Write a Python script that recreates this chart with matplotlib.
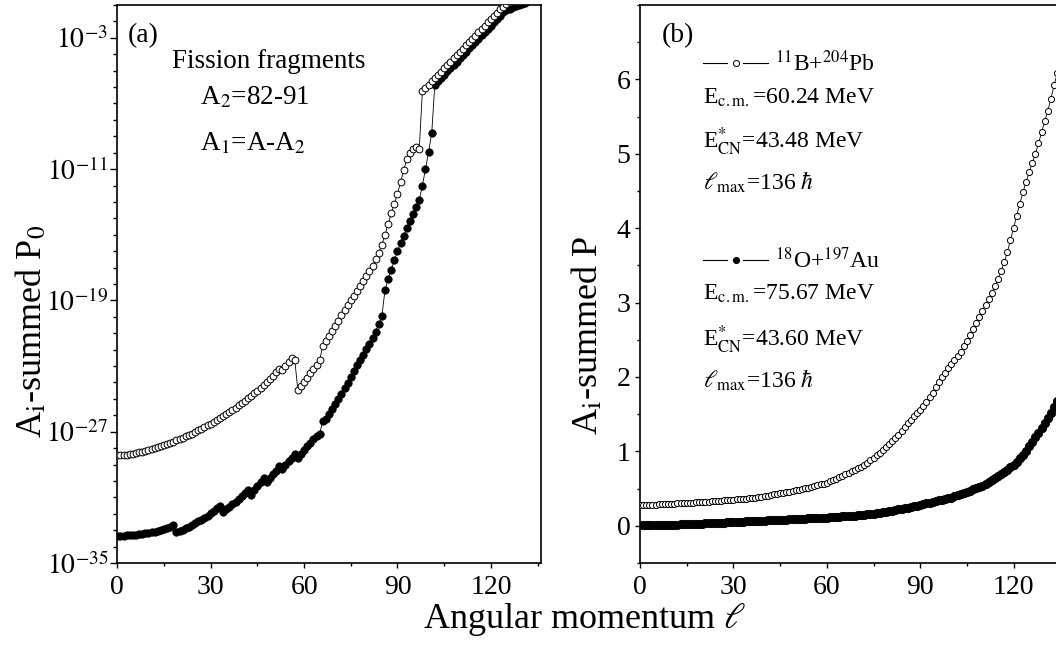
import matplotlib
matplotlib.use("Agg")
import matplotlib.pyplot as plt
import numpy as np
from matplotlib.ticker import FixedLocator, FixedFormatter, MultipleLocator, NullFormatter

# ---------------- data ----------------
ell = list(range(0, 137))

# (a) log10 of A_i-summed P0, 11B+204Pb (open circles)
open_log10_P0 = [
    -28.45, -28.44, -28.42, -28.40, -28.37, -28.34, -28.30, -28.26, -28.22, -28.17,
    -28.12, -28.07, -28.01, -27.95, -27.89, -27.82, -27.75, -27.68, -27.60, -27.52,
    -27.44, -27.36, -27.28, -27.20, -27.12, -27.02, -26.92, -26.82, -26.72, -26.62,
    -26.52, -26.40, -26.28, -26.16, -26.04, -25.92, -25.80, -25.67, -25.54, -25.40,
    -25.26, -25.12, -24.97, -24.82, -24.66, -24.50, -24.33, -24.15, -23.97, -23.78,
    -23.58, -23.38, -23.15, -23.25, -23.00, -22.75, -22.50, -22.62, -24.48, -24.22,
    -23.96, -23.70, -23.44, -23.18, -22.92, -22.65, -21.75, -21.45, -21.15, -20.85,
    -20.55, -20.25, -19.90, -19.60, -19.30, -19.00, -18.72, -18.44, -18.12, -17.80,
    -17.50, -17.20, -16.88, -16.50, -16.10, -15.60, -15.00, -14.35, -13.70, -13.10,
    -12.50, -11.80, -11.05, -10.40, -10.00, -9.78, -9.65, -9.75, -6.26, -6.06,
    -5.86, -5.66, -5.46, -5.26, -5.06, -4.86, -4.66, -4.46, -4.26, -4.06,
    -3.86, -3.66, -3.46, -3.26, -3.06, -2.86, -2.66, -2.46, -2.26, -2.06,
    -1.86, -1.66, -1.46, -1.27, -1.10, -0.95, -0.82, -0.72, -0.64, -0.58,
    -0.54, -0.51, -0.49, -0.47, -0.46, -0.45, -0.44,
]

# (a) log10 of A_i-summed P0, 18O+197Au (filled circles)
filled_log10_P0 = [
    -33.34, -33.34, -33.33, -33.32, -33.31, -33.30, -33.28, -33.26, -33.23, -33.20,
    -33.17, -33.13, -33.09, -33.04, -32.99, -32.93, -32.86, -32.78, -32.66, -33.12,
    -33.04, -32.96, -32.87, -32.78, -32.68, -32.58, -32.47, -32.36, -32.24, -32.12,
    -31.97, -31.82, -31.66, -31.50, -31.88, -31.73, -31.58, -31.42, -31.26, -31.09,
    -30.92, -30.74, -30.55, -30.85, -30.58, -30.32, -30.05, -29.80, -30.04, -29.82,
    -29.60, -29.38, -29.12, -29.28, -29.02, -28.80, -28.58, -28.38, -28.60, -28.35,
    -28.10, -27.88, -27.66, -27.46, -27.28, -27.12, -26.35, -26.22, -25.93, -25.63,
    -25.32, -25.00, -24.68, -24.35, -24.02, -23.68, -23.32, -22.96, -22.62, -22.30,
    -21.98, -21.66, -21.30, -20.90, -20.45, -19.95, -18.35, -17.72, -17.12, -16.55,
    -16.02, -15.52, -15.05, -14.60, -14.16, -13.72, -13.30, -12.88, -12.00, -11.00,
    -9.95, -8.80, -5.85, -5.65, -5.45, -5.25, -5.05, -4.85, -4.65, -4.45,
    -4.25, -4.05, -3.85, -3.65, -3.45, -3.25, -3.05, -2.85, -2.65, -2.45,
    -2.25, -2.05, -1.86, -1.68, -1.45, -1.32, -1.22, -1.14, -1.07, -1.00,
    -0.93, -0.85, -0.76, -0.67, -0.58, -0.50, -0.42,
]

# (b) A_i-summed P, 11B+204Pb (open circles)
open_P = [
    0.280, 0.281, 0.282, 0.283, 0.284, 0.286, 0.288, 0.290, 0.292, 0.294,
    0.296, 0.298, 0.300, 0.302, 0.304, 0.306, 0.308, 0.311, 0.314, 0.317,
    0.320, 0.323, 0.326, 0.329, 0.332, 0.335, 0.338, 0.341, 0.344, 0.347,
    0.350, 0.354, 0.358, 0.362, 0.366, 0.370, 0.375, 0.380, 0.385, 0.392,
    0.400, 0.407, 0.414, 0.421, 0.428, 0.435, 0.443, 0.451, 0.459, 0.467,
    0.475, 0.484, 0.493, 0.502, 0.512, 0.522, 0.533, 0.544, 0.556, 0.568,
    0.580, 0.597, 0.615, 0.634, 0.654, 0.675, 0.692, 0.710, 0.730, 0.750,
    0.770, 0.795, 0.822, 0.850, 0.880, 0.912, 0.945, 0.980, 1.016, 1.054,
    1.093, 1.133, 1.174, 1.225, 1.275, 1.325, 1.375, 1.425, 1.470, 1.515,
    1.560, 1.610, 1.665, 1.725, 1.790, 1.860, 1.930, 2.000, 2.060, 2.115,
    2.170, 2.225, 2.280, 2.340, 2.410, 2.480, 2.560, 2.640, 2.730, 2.810,
    2.890, 2.970, 3.050, 3.130, 3.220, 3.320, 3.430, 3.540, 3.680, 3.840,
    4.000, 4.170, 4.330, 4.480, 4.620, 4.750, 4.880, 5.000, 5.140, 5.290,
    5.440, 5.580, 5.740, 5.920, 6.080, 6.250, 6.420,
]

# (b) A_i-summed P, 18O+197Au (filled circles)
filled_P = [
    0.005, 0.006, 0.007, 0.008, 0.009, 0.010, 0.011, 0.012, 0.013, 0.014,
    0.015, 0.016, 0.017, 0.018, 0.019, 0.020, 0.022, 0.024, 0.026, 0.028,
    0.030, 0.032, 0.034, 0.036, 0.038, 0.040, 0.042, 0.044, 0.046, 0.048,
    0.050, 0.052, 0.054, 0.056, 0.058, 0.060, 0.062, 0.064, 0.066, 0.068,
    0.070, 0.072, 0.074, 0.076, 0.078, 0.080, 0.082, 0.084, 0.086, 0.088,
    0.090, 0.092, 0.094, 0.096, 0.098, 0.100, 0.102, 0.104, 0.106, 0.108,
    0.110, 0.113, 0.116, 0.119, 0.122, 0.125, 0.128, 0.131, 0.134, 0.137,
    0.140, 0.145, 0.150, 0.155, 0.160, 0.165, 0.171, 0.177, 0.183, 0.189,
    0.195, 0.203, 0.211, 0.219, 0.227, 0.235, 0.244, 0.253, 0.262, 0.271,
    0.280, 0.290, 0.300, 0.310, 0.320, 0.330, 0.340, 0.350, 0.360, 0.370,
    0.380, 0.395, 0.410, 0.425, 0.440, 0.455, 0.472, 0.489, 0.506, 0.523,
    0.540, 0.565, 0.590, 0.615, 0.640, 0.665, 0.695, 0.725, 0.755, 0.785,
    0.815, 0.860, 0.905, 0.955, 1.010, 1.070, 1.130, 1.190, 1.250, 1.315,
    1.380, 1.450, 1.520, 1.600, 1.680, 1.765, 1.850,
]

log_major_exp = [-35, -27, -19, -11, -3]
log_major_labels = [r"$10^{-35}$", r"$10^{-27}$", r"$10^{-19}$", r"$10^{-11}$", r"$10^{-3}$"]
lin_major = [0, 1, 2, 3, 4, 5, 6]
x_major = [0, 30, 60, 90, 120]

# ---------------- style ----------------
plt.rcParams["font.family"] = ["Liberation Serif", "DejaVu Serif"]
plt.rcParams["mathtext.fontset"] = "stix"

fig = plt.figure(figsize=(10.56, 6.48), dpi=100)
axL = fig.add_axes([0.1111, 0.1312, 0.4009, 0.8611])
axR = fig.add_axes([0.6061, 0.1312, 0.4009, 0.8611])

x = np.array(ell)

# panel (a)
axL.plot(x, 10.0 ** np.array(filled_log10_P0), "-", color="black", lw=0.6,
         marker="o", ms=5.3, mfc="black", mec="black", mew=0.6, zorder=2)
axL.plot(x, 10.0 ** np.array(open_log10_P0), "-", color="black", lw=0.6,
         marker="o", ms=4.9, mfc="white", mec="black", mew=0.7, zorder=3)
axL.set_yscale("log")
axL.set_ylim(1e-35, 1e-1)
axL.set_xlim(0, 136)
axL.yaxis.set_major_locator(FixedLocator([10.0 ** e for e in log_major_exp]))
axL.yaxis.set_major_formatter(FixedFormatter(log_major_labels))
axL.yaxis.set_minor_locator(FixedLocator([10.0 ** e for e in range(-35, 0)]))
axL.yaxis.set_minor_formatter(NullFormatter())

# panel (b)
axR.plot(x, filled_P, "-", color="black", lw=0.6,
         marker="o", ms=6.0, mfc="black", mec="black", mew=0.6, zorder=2)
axR.plot(x, open_P, "-", color="black", lw=0.6,
         marker="o", ms=4.4, mfc="white", mec="black", mew=0.7, zorder=3)
axR.set_xlim(0, 136)
axR.set_ylim(-0.5, 7)
axR.yaxis.set_major_locator(FixedLocator(lin_major))
axR.yaxis.set_minor_locator(MultipleLocator(0.5))

for ax in (axL, axR):
    ax.xaxis.set_major_locator(FixedLocator(x_major))
    ax.xaxis.set_minor_locator(MultipleLocator(15))
    ax.tick_params(which="both", direction="out", top=False, right=False,
                   labelsize=20, width=1.0)
    ax.tick_params(axis="x", which="major", length=3.8, pad=5)
    ax.tick_params(axis="x", which="minor", length=2.3)
    for s in ax.spines.values():
        s.set_linewidth(1.2)

axL.tick_params(axis="y", which="major", length=5, pad=1.5)
axL.tick_params(axis="y", which="minor", length=3)
axR.tick_params(axis="y", which="major", length=3.8, pad=3)
axR.tick_params(axis="y", which="minor", length=2.3)

# texts panel (a)
afs = 19.5
axL.text(0.025, 0.934, "(a)", transform=axL.transAxes, fontsize=20, va="baseline")
axL.text(0.128, 0.887, "Fission fragments", transform=axL.transAxes, fontsize=afs, va="baseline")
axL.text(0.196, 0.8226, r"A$_{2}$=82-91", transform=axL.transAxes, fontsize=afs, va="baseline")
axL.text(0.196, 0.7401, r"A$_{1}$=A-A$_{2}$", transform=axL.transAxes, fontsize=afs, va="baseline")

# texts panel (b)
tfs = 17
axR.text(0.0512, 0.934, "(b)", transform=axR.transAxes, fontsize=20, va="baseline")
# legend keys (decoration)
for yk, face in ((0.8955, "white"), (0.543, "black")):
    axR.plot([0.1496, 0.2055], [yk, yk], color="black", lw=0.8, transform=axR.transAxes, clip_on=False)
    axR.plot([0.2433, 0.3023], [yk, yk], color="black", lw=0.8, transform=axR.transAxes, clip_on=False)
    axR.plot([0.2260], [yk], marker="o", ms=4.4, mfc=face, mec="black", mew=0.7,
             transform=axR.transAxes, clip_on=False)
axR.text(0.3189, 0.8805, r"$^{11}$B+$^{204}$Pb", transform=axR.transAxes, fontsize=tfs, va="baseline")
axR.text(0.1496, 0.8238, r"E$_{\mathrm{c.m.}}$=60.24 MeV", transform=axR.transAxes, fontsize=tfs, va="baseline")
axR.text(0.1496, 0.7432, r"E$^{*}_{\mathrm{CN}}$=43.48 MeV", transform=axR.transAxes, fontsize=tfs, va="baseline")
axR.text(0.1496, 0.6685, r"$\ell_{\mathrm{max}}$=136 $\hbar$", transform=axR.transAxes, fontsize=tfs, va="baseline")
axR.text(0.3189, 0.5281, r"$^{18}$O+$^{197}$Au", transform=axR.transAxes, fontsize=tfs, va="baseline")
axR.text(0.1496, 0.4713, r"E$_{\mathrm{c.m.}}$=75.67 MeV", transform=axR.transAxes, fontsize=tfs, va="baseline")
axR.text(0.1496, 0.3877, r"E$^{*}_{\mathrm{CN}}$=43.60 MeV", transform=axR.transAxes, fontsize=tfs, va="baseline")
axR.text(0.1496, 0.3149, r"$\ell_{\mathrm{max}}$=136 $\hbar$", transform=axR.transAxes, fontsize=tfs, va="baseline")

# axis labels
fig.text(0.554, 0.031, r"Angular momentum $\ell$", ha="center", va="baseline", fontsize=26)
fig.text(0.030, 0.488, r"A$_{\mathrm{i}}$-summed P$_{0}$", ha="center", va="center", rotation=90, fontsize=26)
fig.text(0.557, 0.483, r"A$_{\mathrm{i}}$-summed P", ha="center", va="center", rotation=90, fontsize=26)

fig.savefig("out.png", dpi=100)
